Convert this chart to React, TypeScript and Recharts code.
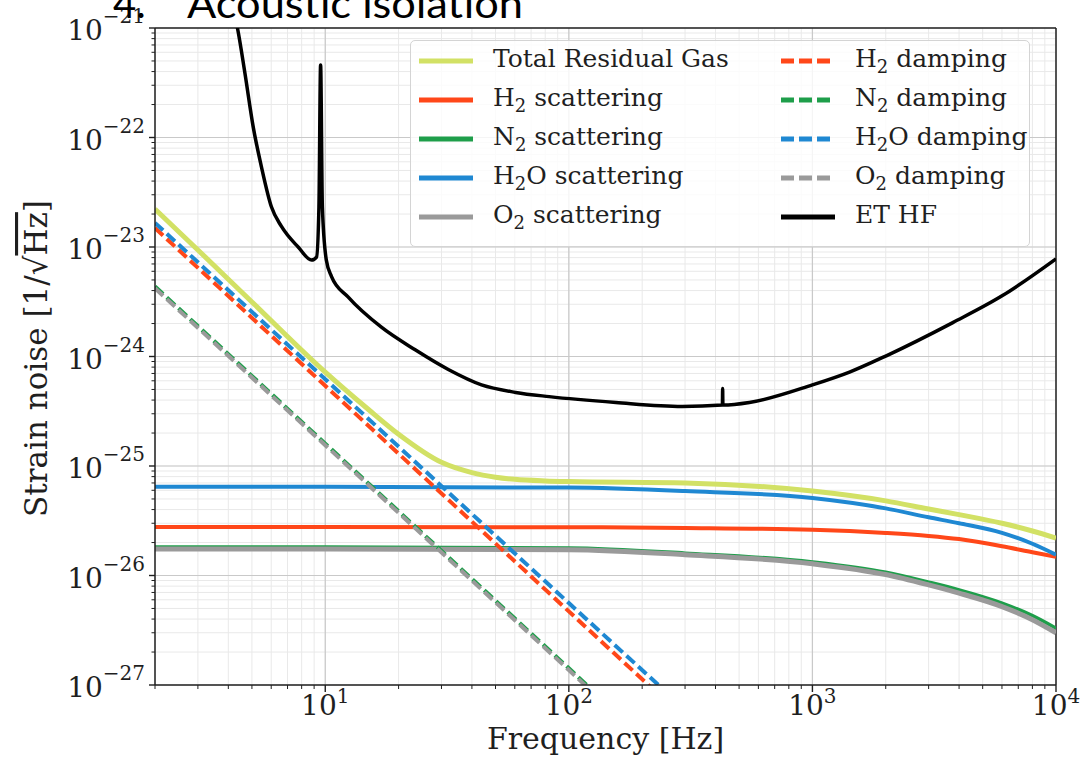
import { LineChart, Line, XAxis, YAxis, CartesianGrid, ReferenceLine, Legend } from "recharts";

const SERIF = "'DejaVu Serif', serif";
const INK = "#1f1f1f";

// frequency grids (Hz) for each family of curves
const dampingFreq = [2, 10, 100, 300];
const scatteringFreq = [2, 10, 100, 300, 1000, 2000, 3000, 4000, 6000, 8000, 10000];
const totalFreq = [2, 3, 5, 10, 15, 20, 30, 40, 50, 60, 80, 100, 300, 1000, 2000, 3000, 4000, 6000, 8000, 10000];
const etFreq = [
  4.15, 4.36, 4.68, 5.06, 5.47, 6.01, 6.61, 7.74, 8.79, 9.21, 9.42, 9.57, 9.73, 10.1, 10.6, 12.4, 17,
  23.4, 32, 43.8, 60.5, 83, 156, 292, 427, 428, 429, 551, 1000, 1420, 2020, 3770, 6030, 10000,
];

// strain noise values [1/sqrt(Hz)]
const totalResidualGas = [
  2.22e-23, 9.4e-24, 3.15e-24, 7.2e-25, 3.3e-25, 1.95e-25, 1.08e-25, 8.7e-26, 7.9e-26, 7.55e-26, 7.3e-26,
  7.2e-26, 7.0e-26, 5.9e-26, 4.8e-26, 4.05e-26, 3.6e-26, 3.0e-26, 2.55e-26, 2.2e-26,
];
const h2Scattering = [2.77e-26, 2.77e-26, 2.76e-26, 2.72e-26, 2.62e-26, 2.45e-26, 2.3e-26, 2.15e-26, 1.85e-26, 1.63e-26, 1.48e-26];
const n2Scattering = [1.82e-26, 1.82e-26, 1.78e-26, 1.6e-26, 1.33e-26, 1.07e-26, 8.7e-27, 7.4e-27, 5.6e-27, 4.3e-27, 3.3e-27];
const h2oScattering = [6.45e-26, 6.45e-26, 6.35e-26, 5.9e-26, 5.1e-26, 4.1e-26, 3.4e-26, 3.0e-26, 2.45e-26, 1.95e-26, 1.55e-26];
const o2Scattering = [1.75e-26, 1.75e-26, 1.72e-26, 1.55e-26, 1.28e-26, 1.02e-26, 8.2e-27, 6.9e-27, 5.2e-27, 3.95e-27, 3.0e-27];
const h2Damping = [1.49e-23, 5.4e-25, 4.7e-27, 4.9e-28];
const n2Damping = [4.35e-24, 1.6e-25, 1.42e-27, 1.45e-28];
const h2oDamping = [1.66e-23, 6.2e-25, 5.6e-27, 6.0e-28];
const o2Damping = [4.2e-24, 1.55e-25, 1.37e-27, 1.4e-28];
const etHF = [
  1.6e-21, 1.0e-21, 3.86e-22, 1.25e-22, 5.4e-23, 2.33e-23, 1.54e-23, 1.0e-23, 7.6e-24, 8.1e-24, 2.33e-23,
  4.6e-22, 2.33e-23, 7.6e-24, 5.4e-24, 3.5e-24, 1.85e-24, 1.15e-24, 7.6e-25, 5.5e-25, 4.7e-25, 4.3e-25,
  3.8e-25, 3.5e-25, 3.6e-25, 5.1e-25, 3.6e-25, 3.8e-25, 5.5e-25, 7.2e-25, 1.02e-24, 2.04e-24, 3.6e-24, 7.8e-24,
];

// axis decades
const xDecades = [1, 10, 100, 1000];
const yDecades = [1e-27, 1e-26, 1e-25, 1e-24, 1e-23, 1e-22];
const xMajor = [10, 100, 1000];
const yMajor = [1e-26, 1e-25, 1e-24, 1e-23, 1e-22];

const xTicks = [...xDecades.flatMap((d) => [1, 2, 3, 4, 5, 6, 7, 8, 9].map((m) => m * d)).filter((v) => v >= 2), 10000];
const yTicks = [...yDecades.flatMap((d) => [1, 2, 3, 4, 5, 6, 7, 8, 9].map((m) => m * d)), 1e-21];

const pts = (f: number[], v: number[]) => f.map((x, i) => ({ f: x, v: v[i] }));

const series = [
  { key: "total", name: "Total Residual Gas", data: pts(totalFreq, totalResidualGas), color: "#d2e165", width: 5, dash: "" },
  { key: "h2s", name: "H₂ scattering", data: pts(scatteringFreq, h2Scattering), color: "#ff4719", width: 4, dash: "" },
  { key: "n2s", name: "N₂ scattering", data: pts(scatteringFreq, n2Scattering), color: "#1e9e4a", width: 3.5, dash: "" },
  { key: "h2os", name: "H₂O scattering", data: pts(scatteringFreq, h2oScattering), color: "#1f88d2", width: 4, dash: "" },
  { key: "o2s", name: "O₂ scattering", data: pts(scatteringFreq, o2Scattering), color: "#9a9a9a", width: 5, dash: "" },
  { key: "h2d", name: "H₂ damping", data: pts(dampingFreq, h2Damping), color: "#ff4719", width: 4, dash: "11 5" },
  { key: "n2d", name: "N₂ damping", data: pts(dampingFreq, n2Damping), color: "#1e9e4a", width: 4, dash: "11 5" },
  { key: "h2od", name: "H₂O damping", data: pts(dampingFreq, h2oDamping), color: "#1f88d2", width: 4, dash: "11 5" },
  { key: "o2d", name: "O₂ damping", data: pts(dampingFreq, o2Damping), color: "#9a9a9a", width: 4, dash: "11 5" },
  { key: "et", name: "ET HF", data: pts(etFreq, etHF), color: "#000000", width: 3.5, dash: "" },
];

const isDecade = (v: number) => Math.abs(Math.log10(v) - Math.round(Math.log10(v))) < 1e-6;
const expOf = (v: number) => Math.round(Math.log10(v));
const expText = (n: number) => (n < 0 ? "\u2212" + Math.abs(n) : String(n));

const YTick = (props: any) => {
  const { x, y, payload } = props;
  const major = isDecade(payload.value);
  return (
    <g>
      <line x1={x} x2={x - (major ? 6 : 3.5)} y1={y} y2={y} stroke={INK} strokeWidth={major ? 1.4 : 1} />
      {major && (
        <text x={x - 10} y={y + 12} textAnchor="end" fontFamily={SERIF} fontSize={28} fill={INK}>
          10
          <tspan fontSize={20} dy={-17}>
            {expText(expOf(payload.value))}
          </tspan>
        </text>
      )}
    </g>
  );
};

const XTick = (props: any) => {
  const { x, y, payload } = props;
  const major = isDecade(payload.value);
  return (
    <g>
      <line x1={x} x2={x} y1={y} y2={y + (major ? 7 : 4)} stroke={INK} strokeWidth={major ? 1.4 : 1} />
      {major && (
        <text x={x} y={y + 30} textAnchor="middle" fontFamily={SERIF} fontSize={28} fill={INK}>
          10
          <tspan fontSize={20} dy={-12}>
            {expText(expOf(payload.value))}
          </tspan>
        </text>
      )}
    </g>
  );
};

const withSub = (name: string) =>
  name.split("₂").flatMap((part, i, arr) =>
    i < arr.length - 1
      ? [part, <span key={i} style={{ fontSize: "0.72em", position: "relative", top: "0.32em" }}>2</span>]
      : [part],
  );

const LegendBox = () => (
  <div
    style={{
      position: "relative",
      width: 620,
      height: 207,
      boxSizing: "border-box",
      border: "1px solid #d4d4d4",
      borderRadius: 5,
      background: "rgba(255,255,255,0.82)",
      fontFamily: SERIF,
      fontSize: 25,
      color: INK,
    }}
  >
    {series.map((s, i) => {
      const col = Math.floor(i / 5);
      const row = i % 5;
      const left = col === 0 ? 8 : 370;
      const top = 20 + row * 39;
      return (
        <div key={s.key}>
          <svg style={{ position: "absolute", left, top: top - 4 }} width={56} height={8}>
            <line x1={0} x2={54} y1={4} y2={4} stroke={s.color} strokeWidth={5} strokeDasharray={s.dash ? "13 5" : undefined} />
          </svg>
          <div style={{ position: "absolute", left: left + 74, top: top - 17, lineHeight: "30px", whiteSpace: "nowrap" }}>
            {withSub(s.name)}
          </div>
        </div>
      );
    })}
  </div>
);

const XLabel = (props: any) => {
  const vb = props.viewBox || { x: 155, y: 685, width: 901 };
  return (
    <text x={vb.x + vb.width / 2} y={749} textAnchor="middle" fontFamily={SERIF} fontSize={30} fill={INK}>
      Frequency [Hz]
    </text>
  );
};

const YLabel = (props: any) => {
  const vb = props.viewBox || { y: 28, height: 657 };
  const cx = 47;
  const cy = vb.y + vb.height / 2 + 2;
  return (
    <text x={cx} y={cy} transform={`rotate(-90, ${cx}, ${cy})`} textAnchor="middle" fontFamily={SERIF} fontSize={31} fill={INK}>
      Strain noise [1/√<tspan style={{ textDecoration: "overline" }}>Hz</tspan>]
    </text>
  );
};

export default function App() {
  return (
    <div style={{ position: "absolute", left: 0, top: 0, width: 1086, height: 761, background: "#fff" }}>
      <LineChart width={1086} height={761} margin={{ top: 28, right: 30, bottom: 0, left: 0 }}>
        <CartesianGrid stroke="#e9e9e9" strokeWidth={1} />
        {xMajor.map((v) => (
          <ReferenceLine key={"gx" + v} x={v} stroke="#c9c9c9" strokeWidth={1.2} />
        ))}
        {yMajor.map((v) => (
          <ReferenceLine key={"gy" + v} y={v} stroke="#c9c9c9" strokeWidth={1.2} />
        ))}
        <ReferenceLine y={1e-21} stroke={INK} strokeWidth={1.5} />
        <ReferenceLine x={10000} stroke={INK} strokeWidth={1.5} />
        <XAxis
          dataKey="f"
          type="number"
          scale="log"
          domain={[2, 10000]}
          allowDataOverflow
          ticks={xTicks}
          interval={0}
          height={76}
          tickSize={0}
          tickMargin={0}
          tickLine={false}
          axisLine={{ stroke: INK, strokeWidth: 1.5 }}
          tick={<XTick />}
          label={<XLabel />}
        />
        <YAxis
          dataKey="v"
          type="number"
          scale="log"
          domain={[1e-27, 1e-21]}
          allowDataOverflow
          ticks={yTicks}
          interval={0}
          width={155}
          tickSize={0}
          tickMargin={0}
          tickLine={false}
          axisLine={{ stroke: INK, strokeWidth: 1.5 }}
          tick={<YTick />}
          label={<YLabel />}
        />
        {series.map((s) => (
          <Line
            key={s.key}
            data={s.data}
            dataKey="v"
            name={s.name}
            type={s.dash ? "linear" : "monotone"}
            stroke={s.color}
            strokeWidth={s.width}
            strokeDasharray={s.dash || undefined}
            dot={false}
            activeDot={false}
            isAnimationActive={false}
          />
        ))}
        <Legend
          layout="vertical"
          align="center"
          verticalAlign="middle"
          wrapperStyle={{ position: "absolute", left: 410, top: 40, width: 620, height: 207 }}
          content={() => <LegendBox />}
        />
      </LineChart>
      <svg style={{ position: "absolute", left: 0, top: 0, pointerEvents: "none" }} width={1086} height={40}>
        <text x={113} y={18} fontFamily="Lato, 'Open Sans', sans-serif" fontSize={40} fill="#000">
          4.
        </text>
        <text x={187} y={18} fontFamily="Lato, 'Open Sans', sans-serif" fontSize={40} fill="#000" textLength={336} lengthAdjust="spacingAndGlyphs">
          Acoustic isolation
        </text>
      </svg>
    </div>
  );
}
